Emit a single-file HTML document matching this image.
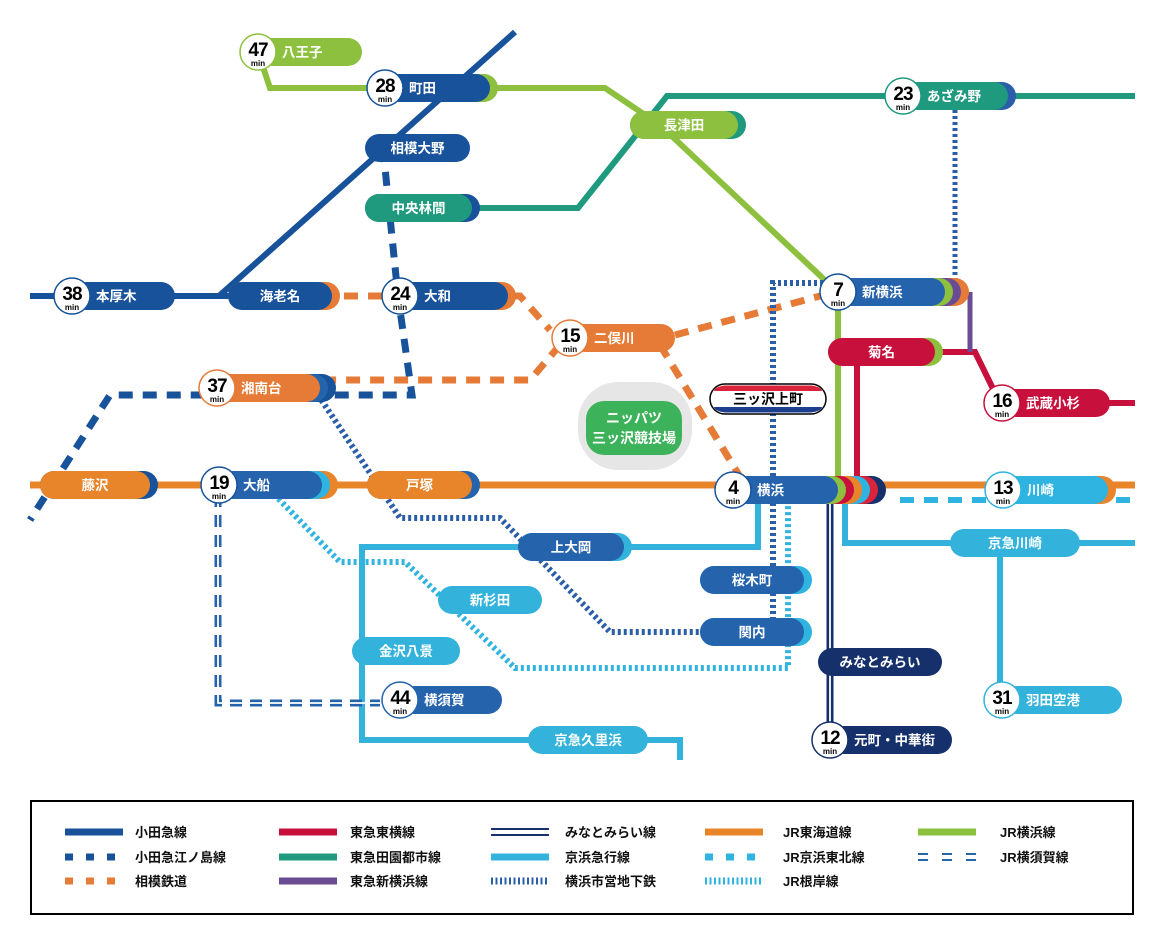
<!DOCTYPE html>
<html><head><meta charset="utf-8"><style>
html,body{margin:0;padding:0;background:#fff;width:1164px;height:946px;overflow:hidden}
svg{display:block}
text{font-family:"Liberation Sans","Noto Sans CJK JP",sans-serif;font-weight:bold}
</style></head><body>
<svg id="s" width="1164" height="946" viewBox="0 0 1164 946" xmlns="http://www.w3.org/2000/svg"></svg>
<script>
const C={od:'#17529a',red:'#c8103c',teal:'#1f9a7e',pur:'#6a4c93',navy:'#15306b',kk:'#33b3dc',org:'#e8842a',grn:'#8dc03f',sub:'#2a5ea8',sot:'#e57b37',cy:'#2fb3e0',mb:'#2563ad'};
let o='';
function L(d,col,w,dash,extra){o+=`<path d="${d}" fill="none" stroke="${col}" stroke-width="${w}" ${dash?`stroke-dasharray="${dash}"`:''} ${extra||''}/>`;}
function pill(x1,x2,y,col,label,caps,tx,anchor){
  caps=caps||[];
  for(let i=caps.length;i>=1;i--){o+=`<rect x="${x1}" y="${y-14}" width="${x2-x1+8*i}" height="28" rx="14" fill="${caps[i-1]}"/>`;}
  o+=`<rect x="${x1}" y="${y-14}" width="${x2-x1}" height="28" rx="14" fill="${col}"/>`;
  if(tx===undefined){tx=(x1+x2)/2;anchor='middle';}
  o+=`<text x="${tx}" y="${y+5}" font-size="13.5" fill="#fff" text-anchor="${anchor||'start'}">${label}</text>`;
}
function circ(cx,cy,n,ring){
  o+=`<circle cx="${cx}" cy="${cy}" r="18" fill="#fff" stroke="${ring}" stroke-width="1.5"/>`;
  o+=`<text x="${cx}" y="${cy+4}" font-size="19" fill="#000" text-anchor="middle" letter-spacing="-1">${n}</text>`;
  o+=`<text x="${cx}" y="${cy+14}" font-size="8" fill="#000" text-anchor="middle">min</text>`;
}
function st(cx,cy,n,ring,x2,col,label,caps){pill(cx,x2,cy,col,label,caps,cx+24,'start');circ(cx,cy,n,ring);}
const DOT='3,3';
// ===== lines =====
// JR Tokaido
L('M30 485 H1135',C.org,7);
// Keihin-Tohoku dashed
L('M900 500 H1135',C.cy,6,'14,10');
// Den-en-toshi
L('M1135 96 H667 L578 208 H370',C.teal,6);
// JR Yokohama
L('M258 52 L270 88 H605 L660 125 L830 285 L838 300 V485',C.grn,6);
// Odakyu
L('M515 32 L219 296',C.od,6);
L('M30 296 H330',C.od,6);
// Odakyu Enoshima dashed
L('M383 148 L398 296 L412 395 H110 L30 520',C.od,7,'14,10');
// Sotetsu dashed
L('M320 296 H520 L550 330',C.sot,7,'14,10');
L('M675 335 L835 292',C.sot,7,'14,10');
L('M560 345 L530 380 H320',C.sot,7,'14,10');
L('M660 345 L745 485',C.sot,7,'14,10');
// Subway blue dotted
L('M318 395 L400 518 H500 L610 632 H710',C.sub,6,DOT);
L('M773 632 V283 H830',C.sub,6,DOT);
L('M955 110 V285',C.sub,5,DOT);
// Negishi dotted
L('M270 490 L340 562 H405 L515 668 H788 V500',C.cy,6,DOT);
// Keikyu
L('M758 495 V547 H362 V740 H680 V760',C.kk,6);
L('M845 495 V543 H1135',C.kk,6);
L('M1000 543 V700',C.kk,6);
// Minatomirai double
L('M830 490 V740',C.navy,7);L('M830 490 V740','#fff',1.8);
// Yokosuka double dashed
L('M218 495 V703 H380',C.mb,7,'12,8');L('M218 495 V703 H380','#fff',1.8);
// Toyoko
L('M857 490 V352 H975 L1000 403 H1135',C.red,6);
// Shin-Yokohama purple
L('M970 292 V352',C.pur,5);
// ===== stadium =====
o+=`<rect x="578" y="382" width="114" height="88" rx="40" fill="#e6e6e6"/>`;
o+=`<rect x="586" y="401" width="96" height="54" rx="18" fill="#3cb35a"/>`;
o+=`<text x="634" y="423" font-size="14" fill="#fff" text-anchor="middle">ニッパツ</text>`;
o+=`<text x="634" y="443" font-size="14" fill="#fff" text-anchor="middle">三ッ沢競技場</text>`;
// 三ッ沢上町 sign
o+=`<rect x="710" y="384" width="116" height="30" rx="15" fill="#fff" stroke="#000" stroke-width="1.5"/>`;
o+=`<path d="M725 385.5 H811 A14 6 0 0 1 822 391 H714 A14 6 0 0 1 725 385.5Z" fill="#d9243c"/>`;
o+=`<path d="M714 407 H822 A14 6 0 0 1 811 412.5 H725 A14 6 0 0 1 714 407Z" fill="#1b3f8e"/>`;
o+=`<text x="768" y="404" font-size="14" fill="#000" text-anchor="middle">三ッ沢上町</text>`;
// ===== stations =====
st(258,52,'47',C.grn,362,C.grn,'八王子');
st(385,88,'28',C.od,490,C.od,'町田',[C.grn]);
pill(630,738,125,C.grn,'長津田',[C.teal]);
st(903,96,'23',C.teal,1008,C.teal,'あざみ野',[C.sub]);
pill(365,470,148,C.od,'相模大野');
pill(365,472,208,C.teal,'中央林間',[C.od]);
st(72,296,'38',C.od,175,C.od,'本厚木');
pill(228,332,296,C.od,'海老名',[C.sot]);
st(400,296,'24',C.od,508,C.od,'大和',[C.sot]);
st(570,338,'15',C.sot,675,C.sot,'二俣川');
st(838,292,'7',C.od,945,C.mb,'新横浜',[C.grn,C.pur,C.sot]);
pill(828,935,352,C.red,'菊名',[C.grn]);
st(1002,403,'16',C.red,1110,C.red,'武蔵小杉');
st(217,388,'37',C.sot,320,C.sot,'湘南台',[C.mb,C.od]);
pill(40,150,485,C.org,'藤沢',[C.od]);
st(219,485,'19',C.od,322,C.mb,'大船',[C.cy,C.org]);
pill(367,472,485,C.org,'戸塚',[C.mb]);
st(733,490,'4',C.od,838,C.mb,'横浜',[C.grn,C.red,C.org,C.cy,'#d9243c',C.navy]);
st(1003,490,'13',C.cy,1108,C.cy,'川崎',[C.org]);
pill(518,624,547,C.mb,'上大岡',[C.kk]);
pill(950,1080,543,C.kk,'京急川崎');
pill(438,542,600,C.kk,'新杉田');
pill(700,804,580,C.mb,'桜木町',[C.cy]);
pill(700,804,632,C.mb,'関内',[C.cy]);
pill(352,460,651,C.kk,'金沢八景');
pill(818,942,662,C.navy,'みなとみらい');
st(400,700,'44',C.mb,502,C.mb,'横須賀');
st(1002,700,'31',C.kk,1122,C.kk,'羽田空港');
pill(528,648,740,C.kk,'京急久里浜');
st(830,740,'12',C.navy,952,C.navy,'元町・中華街');
// ===== legend =====
o+=`<rect x="31" y="801" width="1102" height="113" fill="#fff" stroke="#000" stroke-width="2"/>`;
function lg(x1,y,kind,col,label,lx){
  if(kind=='s')L(`M${x1} ${y} H${x1+58}`,col,7);
  if(kind=='d')L(`M${x1} ${y} H${x1+58}`,col,7,'8,13');
  if(kind=='dot')L(`M${x1} ${y} H${x1+58}`,col,7,'2,2.5');
  if(kind=='dbl'){L(`M${x1} ${y-3} H${x1+58}`,col,2);L(`M${x1} ${y+3} H${x1+58}`,col,2);}
  if(kind=='dd'){L(`M${x1} ${y-3} H${x1+58}`,col,2,'10,14');L(`M${x1} ${y+3} H${x1+58}`,col,2,'10,14');}
  o+=`<text x="${lx}" y="${y+5}" font-size="13" fill="#111">${label}</text>`;
}
const ys=[832,857,881];
lg(65,ys[0],'s',C.od,'小田急線',135);
lg(65,ys[1],'d',C.od,'小田急江ノ島線',135);
lg(65,ys[2],'d',C.sot,'相模鉄道',135);
lg(279,ys[0],'s',C.red,'東急東横線',350);
lg(279,ys[1],'s',C.teal,'東急田園都市線',350);
lg(279,ys[2],'s',C.pur,'東急新横浜線',350);
lg(491,ys[0],'dbl',C.navy,'みなとみらい線',565);
lg(491,ys[1],'s',C.kk,'京浜急行線',565);
lg(491,ys[2],'dot',C.sub,'横浜市営地下鉄',565);
lg(705,ys[0],'s',C.org,'JR東海道線',783);
lg(705,ys[1],'d',C.cy,'JR京浜東北線',783);
lg(705,ys[2],'dot',C.cy,'JR根岸線',783);
lg(918,ys[0],'s',C.grn,'JR横浜線',1000);
lg(918,ys[1],'dd',C.mb,'JR横須賀線',1000);
document.getElementById('s').innerHTML=o;
</script>
</body></html>
